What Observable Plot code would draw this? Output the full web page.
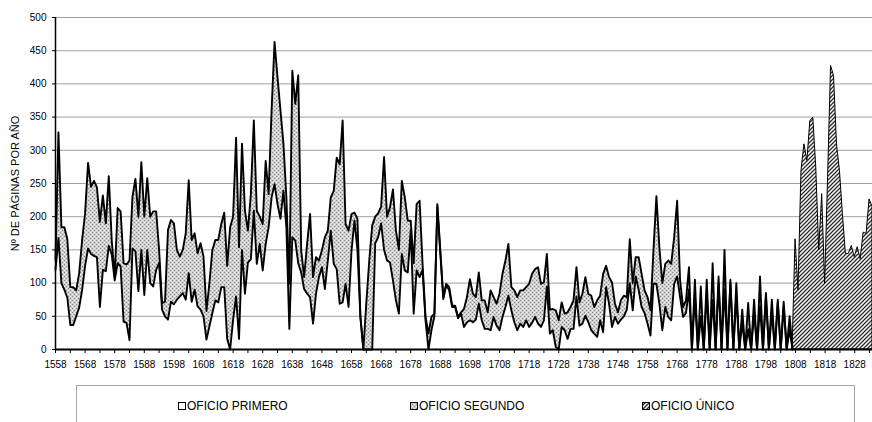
<!DOCTYPE html>
<html><head><meta charset="utf-8">
<script src="https://cdn.jsdelivr.net/npm/d3@7"></script>
<script src="https://cdn.jsdelivr.net/npm/@observablehq/plot@0.6"></script>
<style>
body{margin:0;background:#fff;font-family:"Liberation Sans",Arial,sans-serif;}
#wrap{position:relative;width:872px;height:422px;overflow:hidden;background:#fff;}
#chart{position:absolute;left:0;top:0;}
#legend{position:absolute;left:76px;top:385px;width:779px;height:60px;border:1px solid #a6a6a6;box-sizing:border-box;}
.item{position:absolute;top:13px;height:14px;font-size:12px;color:#000;display:flex;align-items:center;white-space:nowrap;}
.item svg{margin-right:1px;}
</style></head><body>
<div id="wrap"><div id="chart"></div><div id="legend"></div></div>
<script>
// ---- data ----
const startYear = 1558;
// OFICIO SEGUNDO (1558-1807)
const segundo = [
 135,327,184,184,166,94,94,89,115,165,
 205,281,245,254,244,192,232,190,261,164,
 110,213,208,130,128,134,230,257,200,282,
 200,258,200,208,208,150,70,72,180,195,
 190,150,140,150,175,255,165,175,145,160,
 140,58,100,150,165,165,189,206,126,184,
 200,319,154,310,209,179,234,345,209,200,
 189,284,234,360,463,410,360,310,229,99,
 420,370,413,149,109,159,204,109,139,134,
 149,169,179,229,239,289,279,345,189,179,
 204,206,197,50,0,70,134,187,200,205,
 215,290,200,214,241,179,150,254,229,194,
 194,130,219,224,129,49,24,49,54,219,
 149,79,99,94,66,66,49,56,61,79,
 106,84,79,116,74,74,56,89,79,69,
 84,114,134,159,94,89,79,89,89,94,
 99,114,121,124,99,101,144,60,61,59,
 44,71,54,56,64,74,124,71,84,109,
 84,81,64,74,81,114,126,109,101,69,
 56,74,81,79,166,100,139,139,114,89,
 79,59,149,231,154,100,129,134,129,169,
 224,104,64,74,124,0,105,0,95,0,
 105,0,130,0,110,0,150,0,105,0,
 100,0,60,0,70,0,75,0,110,0,
 85,0,75,0,75,0,72,0,50,0
];
// OFICIO PRIMERO (1558-1807)
const primero = [
 120,168,100,90,78,37,37,50,63,90,
 126,152,144,141,139,64,120,118,156,143,
 104,130,125,42,40,14,152,148,88,150,
 82,150,100,95,120,130,60,50,45,72,
 68,75,80,85,75,115,72,90,65,60,
 50,15,35,55,74,71,94,94,16,0,
 45,80,16,150,84,131,136,209,129,159,
 119,159,184,229,249,219,197,239,184,31,
 169,164,130,116,91,84,79,39,84,109,
 124,91,134,179,129,121,69,71,99,64,
 149,194,150,49,0,0,0,0,160,169,
 190,150,134,131,104,74,54,144,119,116,
 180,54,119,109,120,44,0,29,50,215,
 145,76,97,89,64,64,47,54,34,41,
 44,41,45,69,44,31,31,29,49,36,
 29,49,64,81,59,41,29,39,34,44,
 34,40,49,39,34,44,95,24,29,4,
 0,34,29,16,31,31,80,36,39,51,
 41,29,24,19,44,26,94,69,34,49,
 39,45,50,60,100,59,110,90,64,55,
 39,21,99,99,69,29,64,49,44,99,
 110,79,49,55,90,0,80,0,50,0,
 85,0,75,0,100,0,90,0,100,0,
 80,0,40,0,30,0,55,0,65,0,
 80,0,55,0,70,0,65,0,30,0
];
// OFICIO ÚNICO (1807-1834)
const unicoStart = 1807;
const unico = [0,166,89,269,309,284,344,349,274,149,234,99,260,427,412,309,269,204,144,144,156,139,154,136,176,174,226,215];
const xTickLabels = [1558,1568,1578,1588,1598,1608,1618,1628,1638,1648,1658,1668,1678,1688,1698,1708,1718,1728,1738,1748,1758,1768,1778,1788,1798,1808,1818,1828];
const yTicks = [0,50,100,150,200,250,300,350,400,450,500];
const legendLabels = ["OFICIO PRIMERO","OFICIO SEGUNDO","OFICIO ÚNICO"];
const yLabel = "Nº DE PÁGINAS POR AÑO";

// ---- tables ----
const rows = primero.map((p, i) => ({year: startYear + i, p, s: segundo[i]}));
const unicoRows = unico.map((u, i) => ({year: unicoStart + i, u}));
const minorTicks = d3.range(1558, 1835, 5);

const svg = Plot.plot({
  width: 872, height: 380,
  marginLeft: 55, marginRight: 0, marginTop: 17, marginBottom: 31,
  style: {fontFamily: "Liberation Sans, Arial, sans-serif", fontSize: "10px", background: "white", color: "black", overflow: "visible"},
  x: {domain: [1558, 1834], label: null},
  y: {domain: [0, 500], label: null},
  marks: [
    Plot.gridY(yTicks, {stroke: "#a0a0a0", strokeOpacity: 1, strokeWidth: 1}),
    Plot.areaY(rows, {x: "year", y1: "p", y2: "s", fill: "url(#stipple)"}),
    Plot.areaY(unicoRows, {x: "year", y: "u", fill: "url(#hatch)", stroke: "black", strokeWidth: 1}),
    Plot.line(rows, {x: "year", y: "s", stroke: "black", strokeWidth: 1.9}),
    Plot.line(rows, {x: "year", y: "p", stroke: "black", strokeWidth: 1.9}),
    Plot.ruleX([1558], {stroke: "black", strokeWidth: 1.5}),
    Plot.ruleY([0], {stroke: "black", strokeWidth: 2}),
    Plot.axisY(yTicks, {tickSize: 3, tickPadding: 6, label: null}),
    Plot.axisX(minorTicks, {tickSize: 4, tickFormat: () => "", label: null}),
    Plot.axisX(xTickLabels, {tickSize: 0, tickPadding: 11, tickFormat: d => String(d), label: null}),
    Plot.text([yLabel], {frameAnchor: "left", dx: -40, rotate: -90, text: d => d, fontSize: 11, textAnchor: "middle"})
  ]
});

const defs = d3.select(svg).insert("defs", ":first-child");
function addPatterns(defs) {
  const st = defs.append("pattern").attr("id", "stipple").attr("patternUnits", "userSpaceOnUse").attr("width", 4).attr("height", 4);
  st.append("rect").attr("width", 4).attr("height", 4).attr("fill", "#cfcfcf");
  st.append("rect").attr("x", 0).attr("y", 0).attr("width", 1).attr("height", 1).attr("fill", "#858585");
  st.append("rect").attr("x", 2).attr("y", 2).attr("width", 1).attr("height", 1).attr("fill", "#858585");
  st.append("rect").attr("x", 2).attr("y", 0).attr("width", 1).attr("height", 1).attr("fill", "#f5f5f5");
  st.append("rect").attr("x", 0).attr("y", 2).attr("width", 1).attr("height", 1).attr("fill", "#f5f5f5");
  const h = defs.append("pattern").attr("id", "hatch").attr("patternUnits", "userSpaceOnUse").attr("width", 4).attr("height", 4);
  h.append("rect").attr("width", 4).attr("height", 4).attr("fill", "#fff");
  h.append("path").attr("d", "M-1,1 l2,-2 M0,4 l4,-4 M3,5 l2,-2").attr("stroke", "#2a2a2a").attr("stroke-width", 1.3);
}
addPatterns(defs);
document.getElementById("chart").appendChild(svg);

// ---- legend ----
const fills = ["#fff", "url(#stipple)", "url(#hatch)"];
const lefts = [101, 333, 565];
const legend = d3.select("#legend");
legendLabels.forEach((t, i) => {
  const it = legend.append("div").attr("class", "item").style("left", lefts[i] + "px");
  const s = it.append("svg").attr("width", 8).attr("height", 8);
  s.append("rect").attr("x", 0.5).attr("y", 0.5).attr("width", 7).attr("height", 7).attr("fill", fills[i]).attr("stroke", "#000").attr("stroke-width", 1);
  it.append("span").text(t);
});
</script>
</body></html>
